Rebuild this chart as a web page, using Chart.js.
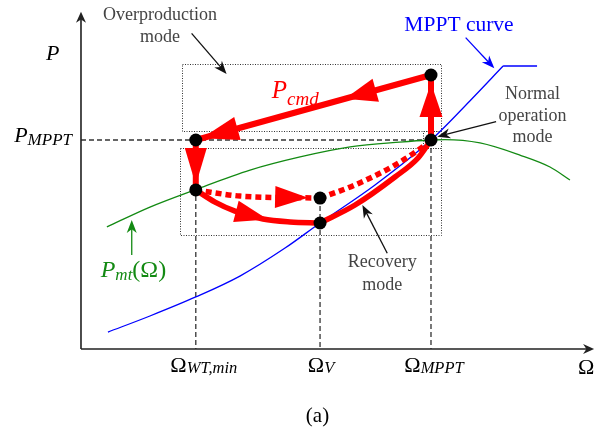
<!DOCTYPE html>
<html>
<head>
<meta charset="utf-8">
<script src="https://cdn.jsdelivr.net/npm/chart.js@4.4.1/dist/chart.umd.min.js"></script>
<style>
  html, body { margin: 0; padding: 0; background: #fff; }
  canvas { display: block; }
</style>
</head>
<body>
<canvas id="c" width="611" height="438"></canvas>
<script>
// All values are normalised: speed as Ω / Ω_MPPT, power as P / P_MPPT.
const omegaTicks = [0.328, 0.683, 1.0];
const omegaTickSubs = ['WT,min', 'V', 'MPPT'];
const powerTicks = [1.0];
const powerTickSubs = ['MPPT'];

// Turbine power P_mt(Ω) at the present wind speed
const pmtOmega = [0.074, 0.197, 0.328, 0.483, 0.626, 0.769, 0.911, 1.0, 1.04, 1.14, 1.254, 1.34, 1.397];
const pmtPower = [0.584, 0.679, 0.763, 0.856, 0.919, 0.967, 0.990, 1.0, 1.002, 0.986, 0.928, 0.871, 0.809];

// MPPT characteristic and its upper power limit
const mpptOmega = [0.077, 0.197, 0.328, 0.454, 0.583, 0.683, 0.84, 1.0, 1.111, 1.206];
const mpptPower = [0.081, 0.158, 0.249, 0.349, 0.483, 0.603, 0.785, 1.0, 1.187, 1.354];
const limitOmega = [1.206, 1.303];
const limitPower = [1.354, 1.354];

// Operating points
const pointOmega = [1.0, 0.328, 0.328, 0.683, 0.683, 1.0];
const pointPower = [1.311, 1.0, 0.761, 0.722, 0.603, 1.0];

// P_cmd trajectory
const cmdOmega = [1.0, 0.328];
const cmdPower = [1.311, 1.0];
const dropOmega = [0.328, 0.328];
const dropPower = [1.0, 0.761];
const recoveryOmega = [0.328, 0.383, 0.44, 0.52, 0.597, 0.683];
const recoveryPower = [0.761, 0.703, 0.660, 0.622, 0.608, 0.603];
const returnOmega = [0.683, 0.783, 0.897, 0.963, 1.0];
const returnPower = [0.603, 0.689, 0.823, 0.914, 1.0];
const altOmega = [0.328, 0.454, 0.683];
const altPower = [0.761, 0.732, 0.722];
const altReturnOmega = [0.683, 0.783, 0.897, 0.983, 1.0];
const altReturnPower = [0.722, 0.785, 0.880, 0.976, 1.0];
const riseOmega = [1.0, 1.0];
const risePower = [1.0, 1.311];

// Operating-mode regions: [Ω from, Ω to, P from, P to]
const overproductionBox = [0.29, 1.03, 1.043, 1.362];
const recoveryBox = [0.283, 1.03, 0.545, 0.962];
const normalBox = [0.977, 1.03, 0.962, 1.043];

const SERIF = '"Liberation Serif", "Times New Roman", serif';
const RED = '#ff0000', GREEN = '#138a13', BLUE = '#0000ff', GREY = '#444444';

const series = (label, xs, ys, extra) => Object.assign({
  label,
  data: xs.map((v, i) => ({ x: v, y: ys[i] })),
  pointRadius: 0,
  pointHoverRadius: 0,
  fill: false,
  tension: 0
}, extra);

const smooth = { cubicInterpolationMode: 'monotone' };
const thinCurve = { borderWidth: 1.3, order: 5 };
const redSolid = { borderColor: RED, borderWidth: 6, order: 2 };
const redDotted = { borderColor: RED, borderWidth: 5.5, borderDash: [6, 4], order: 3 };

const datasets = [
  series('P_mt', pmtOmega, pmtPower, Object.assign({ borderColor: GREEN }, thinCurve, smooth)),
  series('MPPT', mpptOmega, mpptPower, Object.assign({ borderColor: BLUE }, thinCurve, smooth)),
  series('MPPT limit', limitOmega, limitPower, Object.assign({ borderColor: BLUE }, thinCurve)),
  series('P_cmd', cmdOmega, cmdPower, redSolid),
  series('drop', dropOmega, dropPower, redSolid),
  series('recovery', recoveryOmega, recoveryPower, Object.assign({}, redSolid, { borderWidth: 5.5 }, smooth)),
  series('return', returnOmega, returnPower, Object.assign({}, redSolid, { borderWidth: 5.5 }, smooth)),
  series('alt', altOmega, altPower, Object.assign({}, redDotted, smooth)),
  series('alt return', altReturnOmega, altReturnPower, Object.assign({}, redDotted, smooth)),
  series('rise', riseOmega, risePower, redSolid),
  series('points', pointOmega, pointPower, {
    showLine: false, pointRadius: 6.5, pointHoverRadius: 6.5,
    pointBackgroundColor: '#000', pointBorderWidth: 0, order: 0
  })
];

// Large direction arrows on the trajectory (tip located by Ω or P)
const trajectoryArrows = [
  { ds: 'P_cmd', key: 'x', at: 0.754, len: 32, half: 12 },
  { ds: 'P_cmd', key: 'x', at: 0.345, len: 37, half: 12 },
  { ds: 'drop', key: 'y', at: 0.785, len: 37, half: 11 },
  { ds: 'recovery', key: 'x', at: 0.534, len: 33, half: 11 },
  { ds: 'alt', key: 'x', at: 0.649, len: 33, half: 11 },
  { ds: 'rise', key: 'y', at: 1.273, len: 34, half: 11.5 }
];

// Thin pointer arrows of the annotations: [Ω0, P0, Ω1, P1, colour]
const pointers = [
  [0.316, 1.510, 0.416, 1.316, '#111'],
  [1.099, 1.490, 1.181, 1.343, BLUE],
  [1.186, 1.088, 1.018, 1.016, '#111'],
  [0.875, 0.458, 0.804, 0.689, '#111'],
  [0.145, 0.450, 0.145, 0.617, GREEN]
];

// Annotation texts: [text, Ω centre, P baseline, colour, size]
const notes = [
  ['Overproduction', 0.226, 1.574, GREY, 18],
  ['mode', 0.226, 1.467, GREY, 18],
  ['MPPT curve', 1.08, 1.5215, BLUE, 21.5],
  ['Normal', 1.29, 1.196, GREY, 18],
  ['operation', 1.29, 1.093, GREY, 18],
  ['mode', 1.29, 0.990, GREY, 18],
  ['Recovery', 0.861, 0.390, GREY, 18],
  ['mode', 0.861, 0.280, GREY, 18]
];

const axisEnd = { omega: 1.466, power: 1.614 };

function rich(ctx, parts, x, y, align, color) {
  let w = 0;
  parts.forEach(p => { ctx.font = p[1]; w += ctx.measureText(p[0]).width; });
  let cx = align === 'center' ? x - w / 2 : (align === 'right' ? x - w : x);
  ctx.fillStyle = color;
  ctx.textAlign = 'left';
  ctx.textBaseline = 'alphabetic';
  parts.forEach(p => {
    ctx.font = p[1];
    ctx.fillText(p[0], cx, y + (p[2] || 0));
    cx += ctx.measureText(p[0]).width;
  });
}

function stealth(ctx, tx, ty, ux, uy, len, half, color) {
  const nx = -uy, ny = ux;
  ctx.fillStyle = color;
  ctx.beginPath();
  ctx.moveTo(tx, ty);
  ctx.lineTo(tx - ux * len + nx * half, ty - uy * len + ny * half);
  ctx.lineTo(tx - ux * len * 0.7, ty - uy * len * 0.7);
  ctx.lineTo(tx - ux * len - nx * half, ty - uy * len - ny * half);
  ctx.closePath();
  ctx.fill();
}

function pointer(ctx, x0, y0, x1, y1, color) {
  const L = Math.hypot(x1 - x0, y1 - y0), ux = (x1 - x0) / L, uy = (y1 - y0) / L;
  ctx.strokeStyle = color;
  ctx.lineWidth = 1.3;
  ctx.setLineDash([]);
  ctx.beginPath();
  ctx.moveTo(x0, y0);
  ctx.lineTo(x1 - ux * 8, y1 - uy * 8);
  ctx.stroke();
  stealth(ctx, x1, y1, ux, uy, 13, 5, color);
}

function polyline(chart, idx) {
  return chart.getDatasetMeta(idx).data.map(p => ({ x: p.x, y: p.y }));
}
function arcAt(poly, key, val) {
  let s = 0;
  for (let i = 0; i < poly.length - 1; i++) {
    const a = poly[i], b = poly[i + 1], L = Math.hypot(b.x - a.x, b.y - a.y);
    const lo = Math.min(a[key], b[key]), hi = Math.max(a[key], b[key]);
    if (hi > lo && val >= lo && val <= hi) return s + L * (val - a[key]) / (b[key] - a[key]);
    s += L;
  }
  return s;
}
function pointAtArc(poly, s) {
  let acc = 0;
  for (let i = 0; i < poly.length - 1; i++) {
    const a = poly[i], b = poly[i + 1], L = Math.hypot(b.x - a.x, b.y - a.y);
    if (acc + L >= s || i === poly.length - 2) {
      const t = L ? (s - acc) / L : 0;
      return { x: a.x + (b.x - a.x) * t, y: a.y + (b.y - a.y) * t };
    }
    acc += L;
  }
  return poly[0];
}

const schematic = {
  id: 'schematic',
  beforeDatasetsDraw(chart) {
    const { ctx, scales } = chart;
    const X = v => scales.x.getPixelForValue(v), Y = v => scales.y.getPixelForValue(v);
    ctx.save();

    // operating-mode regions
    ctx.strokeStyle = '#333';
    ctx.lineWidth = 1;
    ctx.setLineDash([1, 1.5]);
    [overproductionBox, recoveryBox, normalBox].forEach(b => {
      const x0 = Math.round(X(b[0])) + 0.5, x1 = Math.round(X(b[1])) + 0.5;
      const y0 = Math.round(Y(b[3])) + 0.5, y1 = Math.round(Y(b[2])) + 0.5;
      ctx.strokeRect(x0, y0, x1 - x0, y1 - y0);
    });

    // dashed guides to the axes
    ctx.strokeStyle = '#333';
    ctx.lineWidth = 1.3;
    ctx.setLineDash([5, 3]);
    ctx.beginPath();
    ctx.moveTo(X(0), Y(powerTicks[0]));
    ctx.lineTo(X(omegaTicks[2]), Y(powerTicks[0]));
    omegaTicks.forEach(w => {
      const top = Math.max(...pointPower.filter((p, i) => pointOmega[i] === w && p <= powerTicks[0]));
      ctx.moveTo(X(w), Y(top));
      ctx.lineTo(X(w), Y(0));
    });
    ctx.stroke();

    // axes
    ctx.setLineDash([]);
    ctx.strokeStyle = '#222';
    ctx.lineWidth = 1.6;
    ctx.beginPath();
    ctx.moveTo(X(0), Y(0));
    ctx.lineTo(X(0), Y(axisEnd.power) + 6);
    ctx.moveTo(X(0), Y(0));
    ctx.lineTo(X(axisEnd.omega) - 6, Y(0));
    ctx.stroke();
    stealth(ctx, X(0), Y(axisEnd.power), 0, -1, 11, 5, '#222');
    stealth(ctx, X(axisEnd.omega), Y(0), 1, 0, 11, 5, '#222');
    ctx.restore();
  },
  beforeDatasetDraw(chart, args) {
    if (chart.data.datasets[args.index].label !== 'points') return;
    const { ctx, scales } = chart;
    const X = v => scales.x.getPixelForValue(v), Y = v => scales.y.getPixelForValue(v);
    ctx.save();
    trajectoryArrows.forEach(a => {
      const idx = chart.data.datasets.findIndex(d => d.label === a.ds);
      const poly = polyline(chart, idx);
      const s = arcAt(poly, a.key, a.key === 'x' ? X(a.at) : Y(a.at));
      const tip = pointAtArc(poly, s);
      const base = pointAtArc(poly, Math.max(0, s - a.len));
      let ux = tip.x - base.x, uy = tip.y - base.y;
      const L = Math.hypot(ux, uy) || 1;
      ux /= L; uy /= L;
      const nx = -uy, ny = ux;
      const bx = tip.x - ux * a.len, by = tip.y - uy * a.len;
      ctx.fillStyle = RED;
      ctx.beginPath();
      ctx.moveTo(tip.x, tip.y);
      ctx.lineTo(bx + nx * a.half, by + ny * a.half);
      ctx.lineTo(bx - nx * a.half, by - ny * a.half);
      ctx.closePath();
      ctx.fill();
    });
    ctx.restore();
  },
  afterDatasetsDraw(chart) {
    const { ctx, scales } = chart;
    const X = v => scales.x.getPixelForValue(v), Y = v => scales.y.getPixelForValue(v);
    ctx.save();

    pointers.forEach(p => pointer(ctx, X(p[0]), Y(p[1]), X(p[2]), Y(p[3]), p[4]));

    notes.forEach(n => {
      ctx.font = n[4] + 'px ' + SERIF;
      ctx.fillStyle = n[3];
      ctx.textAlign = 'center';
      ctx.textBaseline = 'alphabetic';
      ctx.fillText(n[0], X(n[1]), Y(n[2]));
    });

    // axis titles
    rich(ctx, [['P', 'italic 22px ' + SERIF]], X(0) - 35, Y(axisEnd.power) + 48, 'left', '#000');
    rich(ctx, [['Ω', '22px ' + SERIF]], X(axisEnd.omega) - 16, Y(0) + 25, 'left', '#000');

    // tick labels
    const tickDx = [8, 1, 3];
    omegaTicks.forEach((w, i) => {
      rich(ctx, [['Ω', '22px ' + SERIF], [omegaTickSubs[i], 'italic 16.5px ' + SERIF, 0.5]],
        X(w) + tickDx[i], Y(0) + 23, 'center', '#000');
    });
    powerTicks.forEach((p, i) => {
      rich(ctx, [['P', 'italic 22px ' + SERIF], [powerTickSubs[i], 'italic 17px ' + SERIF, 3]],
        X(0) - 9, Y(p) + 2, 'right', '#000');
    });

    // curve labels
    rich(ctx, [['P', 'italic 25px ' + SERIF], ['cmd', 'italic 19px ' + SERIF, 7]],
      X(0.545), Y(1.1995), 'left', RED);
    rich(ctx, [['P', 'italic 24px ' + SERIF], ['mt', 'italic 17px ' + SERIF, 3], ['(Ω)', '24px ' + SERIF]],
      X(0.0563), Y(0.346), 'left', GREEN);

    // caption
    rich(ctx, [['(a)', '21px ' + SERIF]], chart.width / 2 + 12, chart.height - 16, 'center', '#000');
    ctx.restore();
  }
};

new Chart(document.getElementById('c'), {
  type: 'line',
  data: { datasets },
  options: {
    responsive: false,
    animation: false,
    devicePixelRatio: 1,
    layout: { padding: 0, autoPadding: false },
    events: [],
    plugins: { legend: { display: false }, tooltip: { enabled: false } },
    scales: {
      x: { type: 'linear', display: false, min: -0.2314, max: 1.5143 },
      y: { type: 'linear', display: false, min: -0.4258, max: 1.6699 }
    }
  },
  plugins: [schematic]
});
</script>
</body>
</html>
